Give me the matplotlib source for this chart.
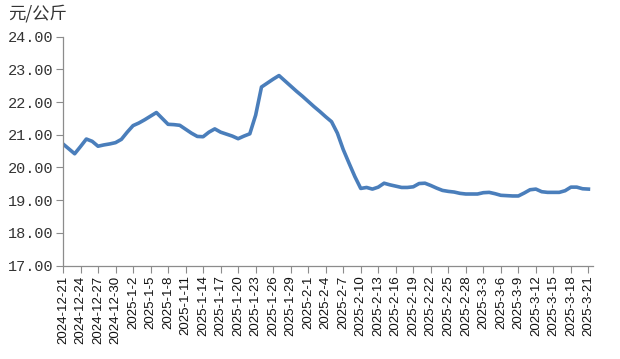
import datetime as dt

import matplotlib

matplotlib.use("Agg")
import matplotlib.pyplot as plt  # noqa: E402

plt.rcParams["font.family"] = ["Noto Sans CJK SC", "DejaVu Sans"]

# daily price, 2024-12-21 .. 2025-3-21
start_date = dt.date(2024, 12, 21)
prices = [
    20.72, 20.57, 20.42, 20.64, 20.87, 20.80, 20.65, 20.69, 20.72, 20.76,
    20.86, 21.08, 21.28, 21.36, 21.46, 21.57, 21.68, 21.50, 21.32, 21.31,
    21.29, 21.17, 21.05, 20.95, 20.94, 21.08, 21.18, 21.08, 21.02, 20.96,
    20.88, 20.96, 21.03, 21.60, 22.46, 22.58, 22.70, 22.81, 22.65, 22.49,
    22.33, 22.18, 22.02, 21.86, 21.71, 21.55, 21.40, 21.05, 20.55, 20.13,
    19.72, 19.36, 19.39, 19.34, 19.40, 19.52, 19.47, 19.43, 19.39, 19.39,
    19.41, 19.51, 19.52, 19.45, 19.37, 19.30, 19.27, 19.25, 19.21, 19.19,
    19.19, 19.19, 19.23, 19.24, 19.20, 19.15, 19.14, 19.13, 19.13, 19.22,
    19.32, 19.34, 19.26, 19.24, 19.24, 19.24, 19.29, 19.40, 19.40, 19.35,
    19.34,
]
dates = [start_date + dt.timedelta(days=i) for i in range(len(prices))]
date_labels = [f"{d.year}-{d.month}-{d.day}" for d in dates]
y_ticks = [17, 18, 19, 20, 21, 22, 23, 24]
unit_label = "元/公斤"

axis_grey = "#8c8c8c"
line_blue = "#4a7ebb"

fig = plt.figure(figsize=(6.2, 3.59), dpi=100)
ax = fig.add_axes([0.1016, 0.26, 0.855, 0.638])

x = list(range(len(prices)))
ax.plot(x, prices, color=line_blue, linewidth=2.6, solid_joinstyle="round")

ax.set_xlim(0, len(prices) - 1 + 0.8)
ax.set_ylim(17, 24)

tick_pos = x[::3]
ax.set_xticks(tick_pos)
ax.set_xticklabels(date_labels[::3], rotation=90, fontsize=9.5,
                   family=["Liberation Sans", "DejaVu Sans"], color="#111111")
ax.set_yticks(y_ticks)
ax.set_yticklabels([f"{v:.2f}" for v in y_ticks], fontsize=11,
                   family=["Liberation Mono", "DejaVu Sans Mono"], color="#333333")

ax.tick_params(axis="both", direction="out", length=5, width=0.8,
               color=axis_grey, pad=2)
for side in ("top", "right"):
    ax.spines[side].set_visible(False)
for side in ("left", "bottom"):
    ax.spines[side].set_color(axis_grey)
    ax.spines[side].set_linewidth(0.9)

fig.text(0.013, 0.963, unit_label, fontsize=12.5, color="#333333",
         ha="left", va="center")

fig.savefig("out.png", dpi=100)
